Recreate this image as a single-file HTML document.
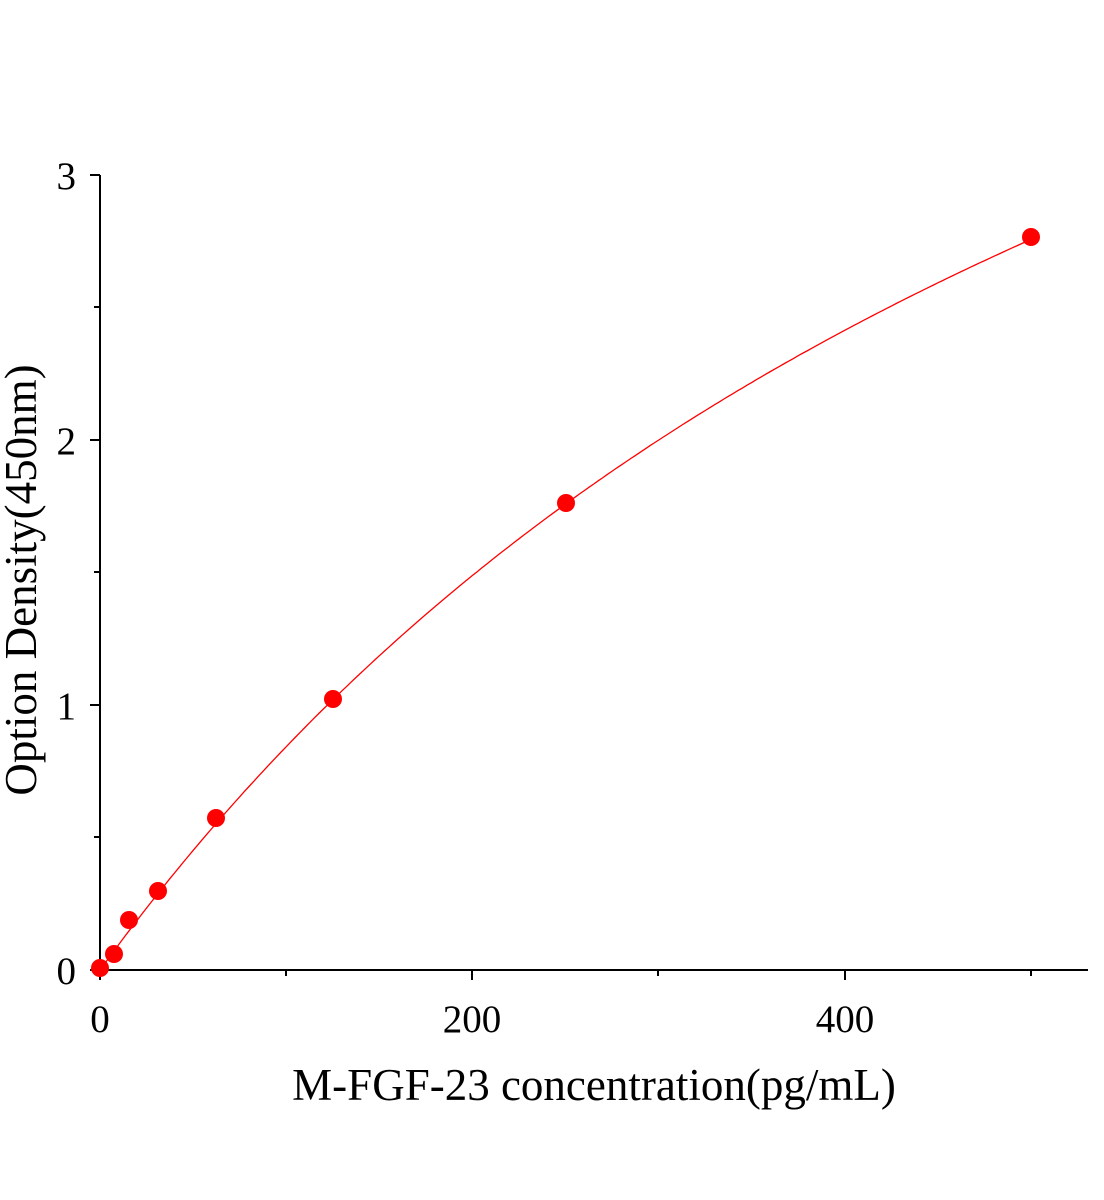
<!DOCTYPE html>
<html><head><meta charset="utf-8"><style>
html,body{margin:0;padding:0;background:#fff;}
svg{display:block;font-family:"Liberation Serif",serif;}
</style></head><body>
<svg id="s" width="1104" height="1200" viewBox="0 0 1104 1200">
<g stroke="#000" stroke-width="2" fill="none">
<line x1="100" y1="175" x2="100" y2="971"/>
<line x1="99" y1="970" x2="1088" y2="970"/>
<line x1="100" y1="175" x2="90" y2="175"/>
<line x1="100" y1="440" x2="90" y2="440"/>
<line x1="100" y1="705" x2="90" y2="705"/>
<line x1="100" y1="970" x2="90" y2="970"/>
<line x1="100" y1="307" x2="94" y2="307"/>
<line x1="100" y1="572" x2="94" y2="572"/>
<line x1="100" y1="837" x2="94" y2="837"/>
<line x1="100" y1="970" x2="100" y2="980"/>
<line x1="472" y1="970" x2="472" y2="980"/>
<line x1="845" y1="970" x2="845" y2="980"/>
<line x1="286" y1="970" x2="286" y2="976"/>
<line x1="658" y1="970" x2="658" y2="976"/>
<line x1="1031" y1="970" x2="1031" y2="976"/>
</g>
<g font-size="39" fill="#000">
<text x="76" y="189" text-anchor="end">3</text>
<text x="76" y="454" text-anchor="end">2</text>
<text x="76" y="719" text-anchor="end">1</text>
<text x="76" y="984" text-anchor="end">0</text>
<text x="100" y="1032" text-anchor="middle">0</text>
<text x="472" y="1032" text-anchor="middle">200</text>
<text x="845" y="1032" text-anchor="middle">400</text>
<text x="594" y="1100" text-anchor="middle" font-size="45">M-FGF-23 concentration(pg/mL)</text>
<text transform="translate(36,580) rotate(-90)" text-anchor="middle" font-size="45">Option Density(450nm)</text>
</g>
<path id="c" fill="none" stroke="#f00" stroke-width="1.3"/>
<g id="p" fill="#f00"></g>
</svg>
<script>
var pts=[[100,968],[114,954],[129,920],[158,891],[216,818],[333,699],[566,503],[1031,237]];
var d="";
for(var i=0;i<=200;i++){
 var x=i*2.5, y=6.38*x/(657+x);
 d+=(i?"L":"M")+(100+x*1.8625).toFixed(1)+","+(970-y*265).toFixed(1);
}
document.getElementById("c").setAttribute("d",d);
var h="";
pts.forEach(function(p){h+='<circle cx="'+p[0]+'" cy="'+p[1]+'" r="9"/>';});
document.getElementById("p").innerHTML=h;
</script>
</body></html>
